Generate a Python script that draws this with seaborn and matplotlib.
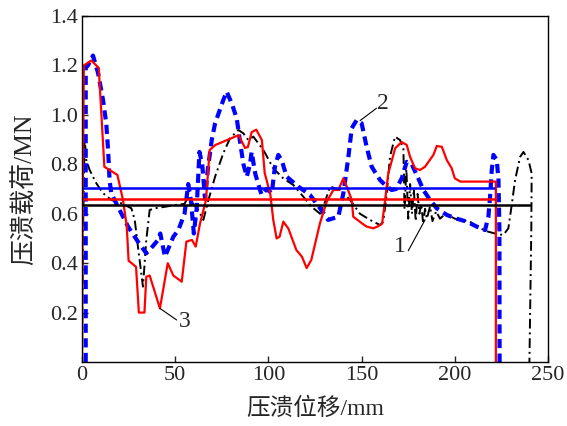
import matplotlib
matplotlib.use("Agg")
import matplotlib.pyplot as plt
import seaborn as sns

# courbe 1 : tirets-points noirs
black_x = [0, 0.5, 1.4, 2.3, 4.1, 7.7, 11.3, 15.7, 21.1, 26.5, 28.3, 30, 31.8, 32.7,
           34.5, 36.3, 39, 44.4, 50, 55, 57, 59.7, 62.4, 65.1, 67.8, 71.4, 75.8, 79.4,
           83.9, 86.6, 89.2, 91.9, 97.3, 102.6, 108, 113.4, 118.7, 123.2, 127.7, 130.4,
           133, 138.4, 143.8, 149.1, 154.5, 159.9, 161.6, 163.5, 165.2, 167.9, 170.6,
           172.4, 173, 174, 175, 176, 177, 178, 179, 180, 181, 182, 183, 184, 185,
           186.7, 188, 190, 192, 195, 200, 208, 213.5, 218, 221.6, 226, 228.7, 230.5,
           232.3, 235, 236.8, 239.5, 241.2, 241, 240]
black_y = [0, 0.5, 0.91, 0.817, 0.777, 0.723, 0.683, 0.656, 0.642, 0.622, 0.575, 0.467, 0.359, 0.305,
           0.494, 0.615, 0.622, 0.628, 0.635, 0.64, 0.669, 0.64, 0.615, 0.575, 0.655, 0.75, 0.845, 0.905,
           0.939, 0.925, 0.898, 0.912, 0.858, 0.784, 0.743, 0.716, 0.669, 0.628, 0.60, 0.649,
           0.71, 0.696, 0.656, 0.60, 0.575, 0.554, 0.568, 0.683, 0.83, 0.912, 0.898,
           0.865, 0.62, 0.78, 0.58, 0.72, 0.60, 0.70, 0.57, 0.68, 0.60, 0.64, 0.56, 0.62, 0.58,
           0.63, 0.57, 0.61, 0.58, 0.60, 0.58, 0.568, 0.541, 0.527, 0.52, 0.514, 0.541, 0.635,
           0.736, 0.83, 0.85, 0.817, 0.763, 0.53, 0]

# courbe 2 : tirets bleus
blue_x = [2, 2, 3.2, 5.9, 8.6, 11.3, 13, 14, 14.8, 15.7, 19.3, 24.7, 30, 34.5, 37, 40.8,
          42, 44.5, 49, 51.7, 55, 57, 58.5, 60, 61.5, 63, 64.5, 66, 67.5, 69.6, 71.4,
          75.8, 77.6, 80.3, 83, 84.8, 86.6, 88.4, 90.1, 91, 93, 95.5, 96.4, 99, 101.8,
          103.5, 105.3, 107.1, 109.8, 116, 122.3, 127.7, 132, 137.5, 140.2, 142.9, 144.7,
          147.4, 150, 152.7, 155.4, 159.9, 163.5, 166.1, 168.5, 171.5, 174.2, 176.9, 180.4,
          183.1, 186.7, 190.3, 195.7, 201, 206.4, 211.7, 216.2, 218, 218.9, 219.8, 220.7,
          222.5, 223.4, 223.9, 224]
blue_y = [0, 1.19, 1.2, 1.24, 1.17, 1.06, 0.966, 0.858, 0.736, 0.683, 0.628, 0.548, 0.487, 0.44, 0.46, 0.494,
          0.52, 0.426, 0.507, 0.534, 0.60, 0.72, 0.65, 0.52, 0.62, 0.85, 0.80, 0.66, 0.78, 0.898, 0.966,
          1.06, 1.094, 1.047, 0.986, 0.89, 0.80, 0.75, 0.80, 0.85, 0.76, 0.696, 0.676, 0.70, 0.683,
          0.79, 0.838, 0.817, 0.75, 0.71, 0.676, 0.622, 0.575, 0.588, 0.683, 0.83, 0.946,
          0.98, 0.966, 0.87, 0.79, 0.736, 0.71, 0.696, 0.70, 0.743, 0.81, 0.80, 0.743,
          0.696, 0.656, 0.622, 0.595, 0.58, 0.568, 0.548, 0.534, 0.588, 0.669, 0.777, 0.838,
          0.817, 0.736, 0.534, 0]

# courbe 3 : trait plein rouge
red_x = [0, 0.3, 1, 5, 9, 12, 19, 22, 24, 25, 29, 30.5, 33.5, 34.5, 36.3, 41.8, 46, 49,
         53.5, 56, 59, 61, 63.3, 66.5, 68.5, 71.5, 80, 84, 87.5, 89, 91, 93.5, 96.5, 98,
         101, 102.6, 104.4, 106, 108, 110.7, 115, 118, 120.5, 123, 127.7, 131.3, 134.8,
         137.5, 140.2, 142, 144.7, 145.5, 150, 152.7, 156.3, 159, 161, 162.6, 164.3, 168,
         171.5, 174.2, 176, 178.6, 181.3, 184, 188.5, 190.3, 193, 195.7, 198.3, 200, 203,
         213.5, 222, 222]
red_y = [0, 0.6, 1.2, 1.22, 1.19, 0.79, 0.757, 0.655, 0.55, 0.41, 0.385, 0.2, 0.2, 0.345, 0.35, 0.217, 0.40, 0.35,
         0.325, 0.487, 0.494, 0.467, 0.56, 0.655, 0.858, 0.878, 0.905, 0.918, 0.866, 0.87, 0.93, 0.94, 0.898, 0.765,
         0.68, 0.575, 0.50, 0.507, 0.568, 0.54, 0.453, 0.426, 0.38, 0.413, 0.563, 0.649, 0.696,
         0.696, 0.743, 0.71, 0.656, 0.588, 0.562, 0.548, 0.541, 0.55, 0.56, 0.656, 0.763, 0.865,
         0.89, 0.878, 0.83, 0.784, 0.777, 0.79, 0.838, 0.874, 0.871, 0.817, 0.784, 0.743, 0.73,
         0.73, 0.73, 0]

# charges moyennes (noir, bleu, rouge) et fin de chaque ligne
mean_load = [0.635, 0.705, 0.66]
mean_end = [241, 221.5, 222]
colors = ["black", "blue", "red"]

# étiquettes des courbes : texte, position du texte, début du trait de rappel
labels = ["1", "2", "3"]
label_pos = [(170.6, 0.466), (161.5, 1.044), (55.3, 0.163)]
label_from = [(184, 0.575), (149.2, 0.977), (41.8, 0.217)]
label_to = [(175, 0.45), (158, 1.027), (50.8, 0.17)]

sns.set_style("ticks")
plt.rcParams["font.family"] = ["Liberation Serif", "Noto Sans CJK SC"]

fig = plt.figure(figsize=(5.67, 4.26), dpi=100)
ax = fig.add_axes([0.1446, 0.1502, 0.822, 0.8122])

sns.lineplot(x=black_x, y=black_y, sort=False, estimator=None, color="black",
             lw=1.4, linestyle=(0, (5, 2, 1, 2)), ax=ax)
sns.lineplot(x=blue_x, y=blue_y, sort=False, estimator=None, color="blue",
             lw=3.0, linestyle=(0, (2.2, 1.3)), ax=ax)
sns.lineplot(x=red_x, y=red_y, sort=False, estimator=None, color="red",
             lw=1.6, ax=ax)

for y, xe, c in zip(mean_load, mean_end, colors):
    ax.hlines(y, 0, xe, color=c, lw=1.8)

for t, p, a, b in zip(labels, label_pos, label_from, label_to):
    ax.plot([a[0], b[0]], [a[1], b[1]], color="black", lw=0.8)
    ax.text(p[0], p[1], t, fontsize=17, ha="center", va="center")

ax.set_xlim(0, 250)
ax.set_ylim(0, 1.4)
ax.set_xticks([0, 50, 100, 150, 200, 250])
ax.set_yticks([0.2, 0.4, 0.6, 0.8, 1.0, 1.2, 1.4])
ax.set_yticklabels(["0.2", "0.4", "0.6", "0.8", "1.0", "1.2", "1.4"])
ax.tick_params(direction="in", length=4, width=1, labelsize=16, pad=3)
for s in ax.spines.values():
    s.set_linewidth(1)
    s.set_color("black")

ax.set_xlabel("压溃位移/mm", fontsize=17, labelpad=9)
ax.set_ylabel("压溃载荷/MN", fontsize=18.5, labelpad=9)

plt.savefig("out.png", dpi=100)
